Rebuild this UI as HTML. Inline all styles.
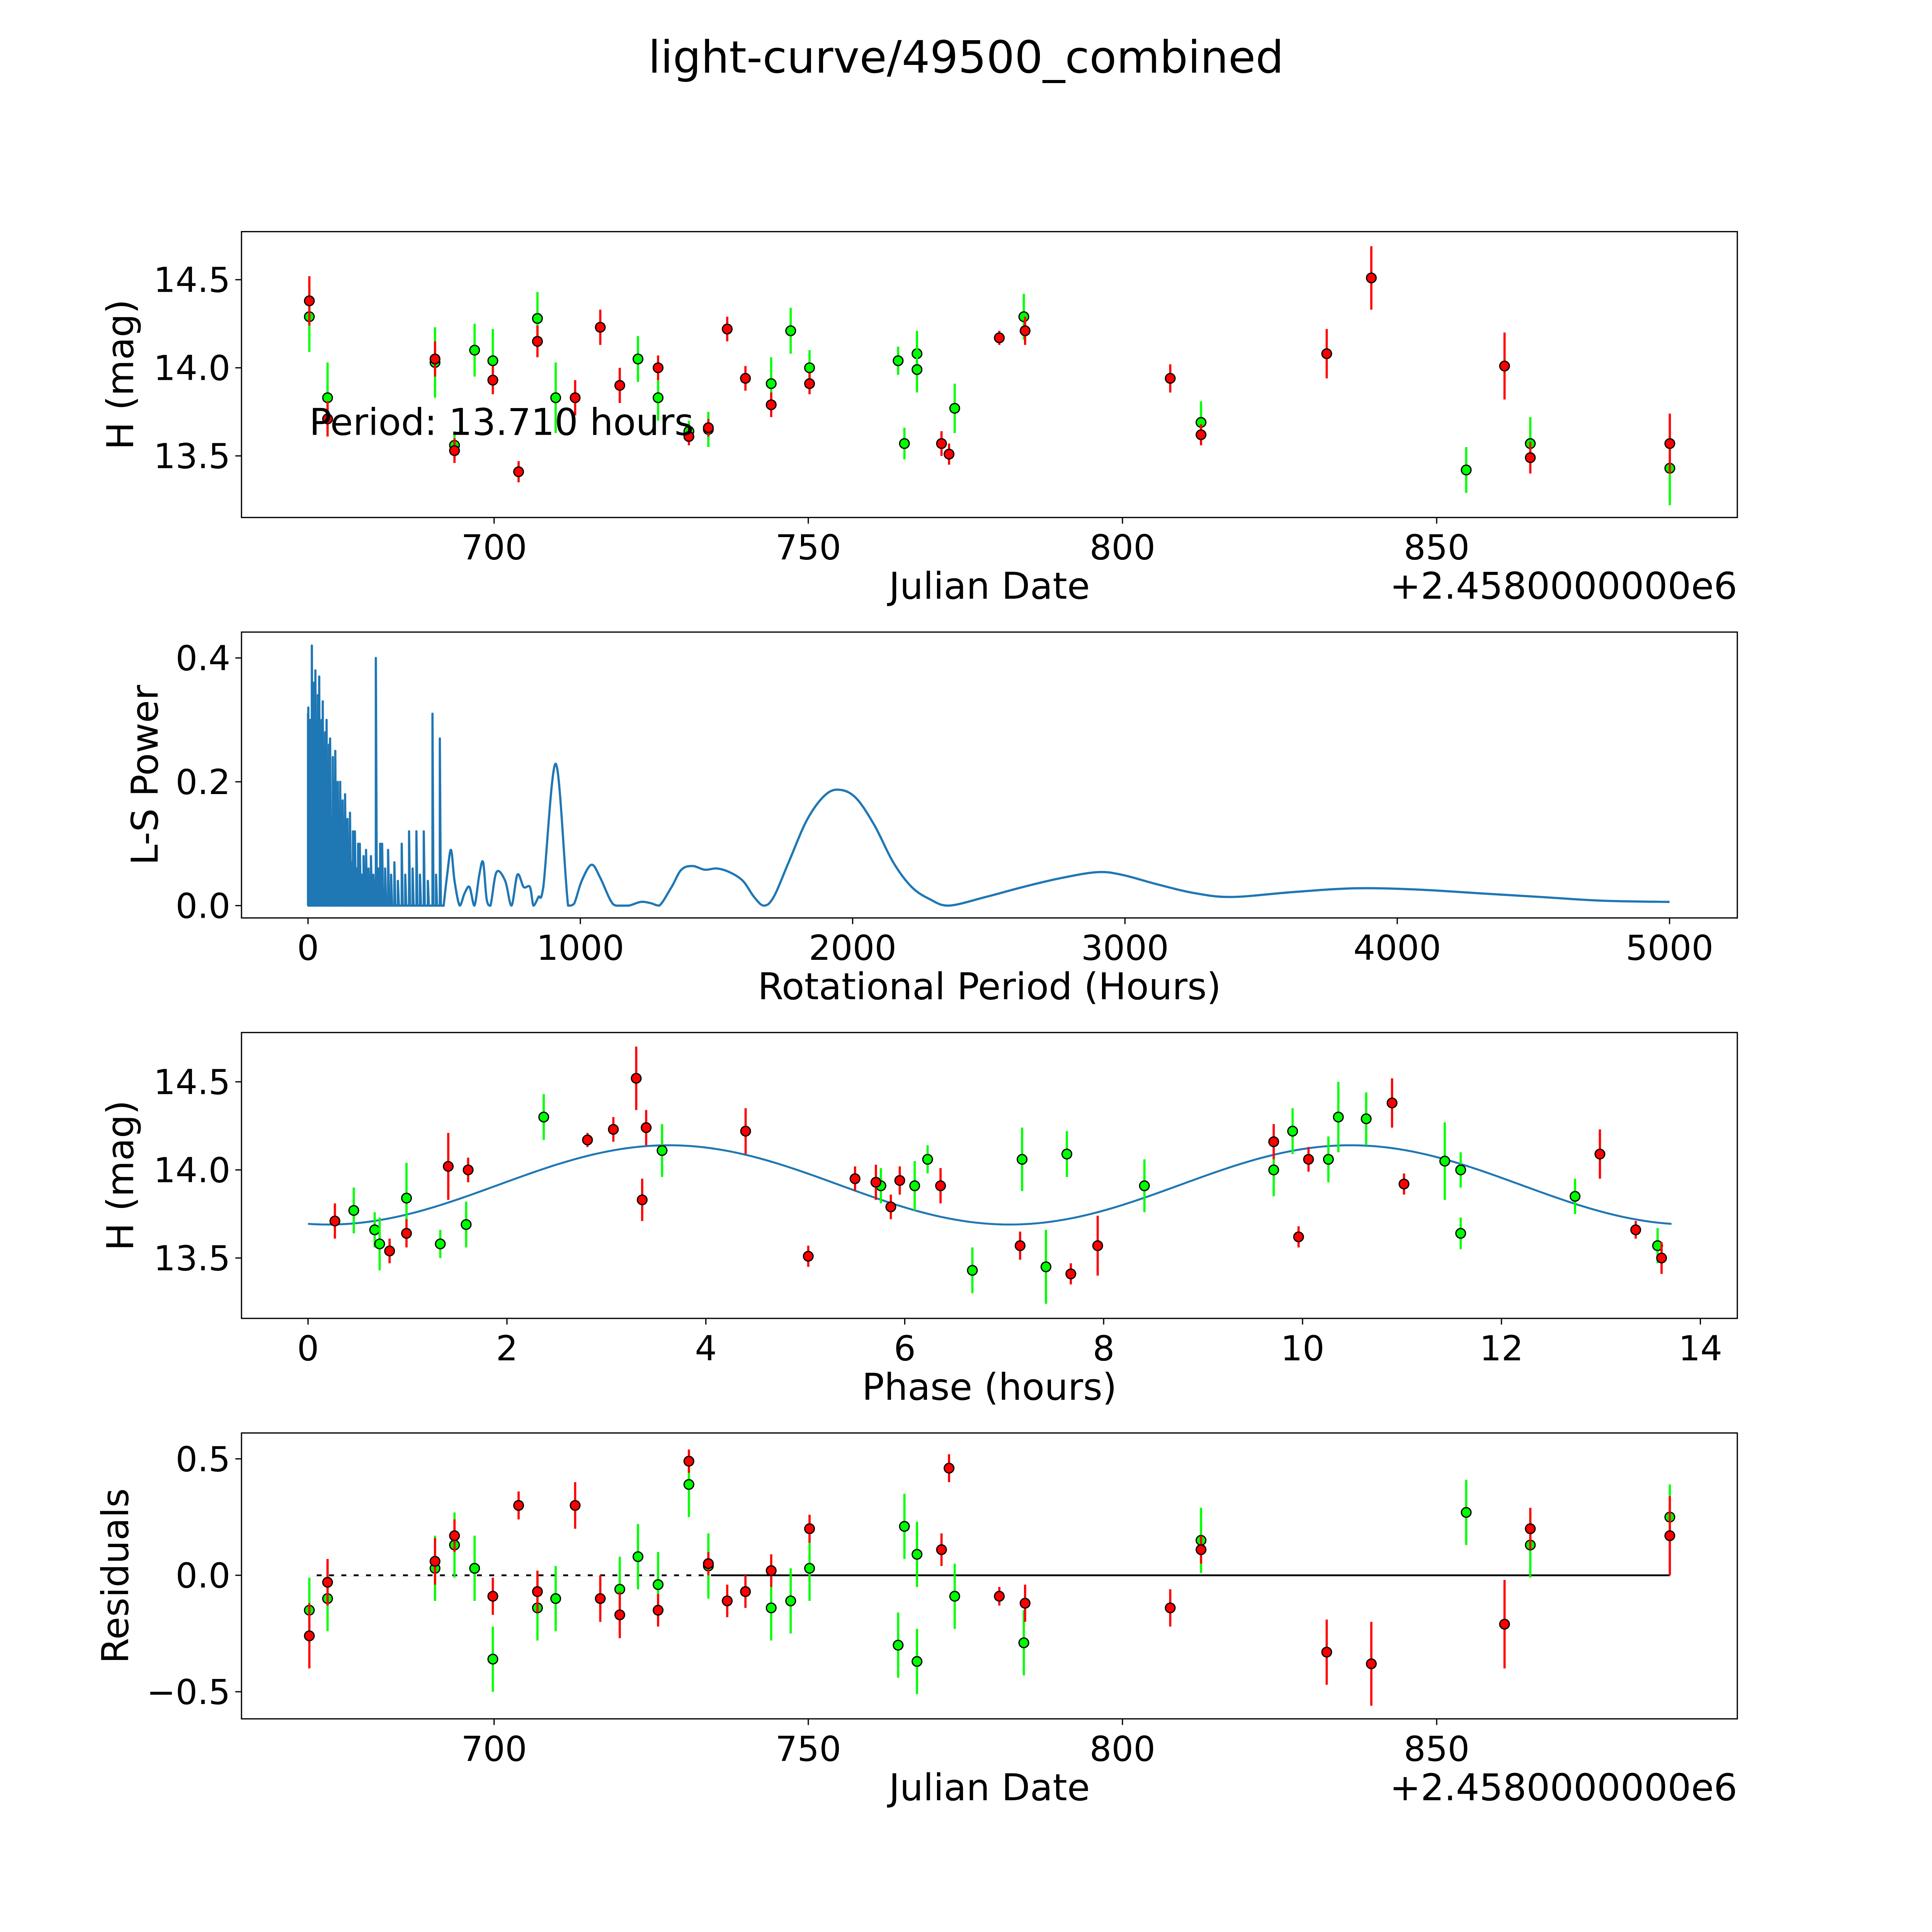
<!DOCTYPE html>
<html><head><meta charset="utf-8"><title>light-curve/49500_combined</title>
<style>
html,body{margin:0;padding:0;background:#fff;overflow:hidden;width:100%;height:100%;}
svg{display:block;width:100vw;height:100vh;font-family:"DejaVu Sans","Liberation Sans",sans-serif;}
</style></head>
<body>
<svg id="fig" viewBox="0 0 1568 1568" preserveAspectRatio="xMinYMin meet" xmlns="http://www.w3.org/2000/svg">
<rect x="0" y="0" width="1568" height="1568" fill="#fff"/>
<text x="784" y="59" font-size="36" text-anchor="middle">light-curve/49500_combined</text>
</svg>
<script>
// ---------- DATA ----------
const redDates=[670.6,673.5,690.6,693.7,699.8,703.9,706.9,712.9,716.9,720,726.1,731,734.1,737.1,740,744.1,750.2,771.2,772.4,780.4,784.5,807.6,812.5,832.5,839.6,860.8,864.9,887.1];
const redMags=[14.38,13.71,14.05,13.53,13.93,13.41,14.15,13.83,14.23,13.90,14.00,13.61,13.66,14.22,13.94,13.79,13.91,13.57,13.51,14.17,14.21,13.94,13.62,14.08,14.51,14.01,13.49,13.57];
const redErrs=[0.14,0.1,0.1,0.07,0.08,0.06,0.09,0.1,0.1,0.1,0.07,0.05,0.05,0.07,0.07,0.07,0.06,0.07,0.06,0.04,0.08,0.08,0.06,0.14,0.18,0.19,0.09,0.17];
const redResid=[-0.26,-0.03,0.06,0.17,-0.09,0.30,-0.07,0.30,-0.10,-0.17,-0.15,0.49,0.05,-0.11,-0.07,0.02,0.20,0.11,0.46,-0.09,-0.12,-0.14,0.11,-0.33,-0.38,-0.21,0.20,0.17];

const greenDates=[670.6,673.5,690.6,693.7,696.9,699.8,706.9,709.8,722.9,726.1,731,734.1,744.1,747.2,750.2,764.3,765.3,767.3,767.3,773.3,784.3,812.5,854.7,864.9,887.1];
const greenMags=[14.29,13.83,14.03,13.56,14.10,14.04,14.28,13.83,14.05,13.83,13.64,13.65,13.91,14.21,14.00,14.04,13.57,14.08,13.99,13.77,14.29,13.69,13.42,13.57,13.43];
const greenErrs=[0.2,0.2,0.2,0.08,0.15,0.18,0.15,0.2,0.13,0.13,0.06,0.1,0.15,0.13,0.1,0.08,0.09,0.13,0.13,0.14,0.13,0.12,0.13,0.15,0.21];
const greenResidDates=[670.6,673.5,690.6,693.7,696.9,699.8,706.9,709.8,720,722.9,726.1,731,734.1,744.1,747.2,750.2,764.3,765.3,767.3,767.3,773.3,784.3,812.5,854.7,864.9,887.1];
const greenResid=[-0.15,-0.10,0.03,0.13,0.03,-0.36,-0.14,-0.10,-0.06,0.08,-0.04,0.39,0.04,-0.14,-0.11,0.03,-0.30,0.21,0.09,-0.37,-0.09,-0.29,0.15,0.27,0.13,0.25];

const redPhase=[0.27,0.82,0.99,1.41,1.61,2.81,3.07,3.30,3.36,3.40,4.40,5.03,5.50,5.71,5.86,5.95,6.36,7.16,7.67,7.94,9.71,9.96,10.06,10.90,11.02,12.99,13.35,13.61];
const redPhaseMags=[13.71,13.54,13.64,14.02,14.00,14.17,14.23,14.52,13.83,14.24,14.22,13.51,13.95,13.93,13.79,13.94,13.91,13.57,13.41,13.57,14.16,13.62,14.06,14.38,13.92,14.09,13.66,13.50];
const redPhaseErrs=[0.1,0.07,0.08,0.19,0.07,0.04,0.07,0.18,0.12,0.1,0.13,0.06,0.07,0.1,0.07,0.08,0.1,0.08,0.06,0.17,0.1,0.06,0.07,0.14,0.06,0.14,0.05,0.09];
const greenPhase=[0.46,0.67,0.72,0.99,1.33,1.59,2.37,3.56,5.76,6.10,6.23,6.68,7.18,7.42,7.63,8.41,9.71,9.90,10.26,10.36,10.64,11.43,11.59,11.59,12.74,13.57];
const greenPhaseMags=[13.77,13.66,13.58,13.84,13.58,13.69,14.30,14.11,13.91,13.91,14.06,13.43,14.06,13.45,14.09,13.91,14.00,14.22,14.06,14.30,14.29,14.05,14.00,13.64,13.85,13.57];
const greenPhaseErrs=[0.13,0.1,0.15,0.2,0.08,0.13,0.13,0.15,0.1,0.14,0.08,0.13,0.18,0.21,0.13,0.15,0.15,0.13,0.13,0.2,0.15,0.22,0.1,0.09,0.1,0.1];

const modelPeriod=[13.71];
const modelParams=[13.915,0.225,0.2];

const lsPeriods=[0,1,5,9,14,18,22,27,31,36,41,45,50,54,59,63,68,72,77,81,86,91,95,100,105,109,113,118,123,127,131,136,141,145,150,154,160,165,172,178,184,190,197,204,213,222,231,240,249,258,265,272,283,294,305,317,330,344,357,371,384,398,411,425,440,457,470,484,495,
498,511,525,538,557,575,593,611,629,643,656,670,692,724,747,769,792,815,828,846,864,910,955,977,1005,1041,1072,1109,1131,1177,1222,1258,1290,1335,1371,1412,1457,1502,1548,1597,1638,1674,1710,1765,1833,1900,1955,2014,2081,2149,2217,2285,2353,2489,2625,2760,2896,2987,3122,3258,3394,3620,3846,4072,4299,4525,4751,5000];
const lsPowers=[0.31,0.32,0.1,0.3,0.42,0.15,0.36,0.38,0.2,0.34,0.37,0.18,0.3,0.33,0.22,0.28,0.3,0.15,0.26,0.27,0.14,0.24,0.2,0.25,0.12,0.2,0.15,0.2,0.1,0.17,0.12,0.18,0.08,0.14,0.1,0.15,0.07,0.12,0.12,0.06,0.1,0.1,0.05,0.08,0.09,0.06,0.08,0.05,0.40,0.06,0.1,0.1,0.06,0.09,0.05,0.07,0.04,0.1,0.05,0.12,0.06,0.12,0.05,0.12,0.04,0.31,0.05,0.27,0.0,
0,0.05,0.09,0.04,0,0.02,0.03,0,0.05,0.07,0.01,0,0.054,0.04,0,0.05,0.03,0.03,0,0.014,0.03,0.229,0,0.003,0.04,0.066,0.046,0.01,0,0,0.006,0.004,0,0.03,0.058,0.064,0.058,0.06,0.054,0.04,0.014,0,0.014,0.07,0.139,0.179,0.187,0.173,0.129,0.07,0.03,0.01,0,0.014,0.03,0.044,0.054,0.05,0.034,0.02,0.014,0.022,0.028,0.026,0.02,0.014,0.008,0.006];
const lsSpikeCount=[69];

// ---------- DRAWING ----------
const NS='http://www.w3.org/2000/svg';
const svg=document.getElementById('fig');
function mk(tag,attrs,parent){const e=document.createElementNS(NS,tag);for(const k in attrs)e.setAttribute(k,attrs[k]);(parent||svg).appendChild(e);return e;}
function lin(d0,d1,p0,p1){return v=>p0+(v-d0)*(p1-p0)/(d1-d0);}

function axes(name,box,xs,ys,xt,yt,xfmt,yfmt,xlabel,ylabel,ylx){
  const g=mk('g',{});
  
  
  const fr=mk('rect',{x:box[0],y:box[1],width:box[2]-box[0],height:box[3]-box[1],fill:'none',stroke:'#000','stroke-width':1},g);
  
  
  xt.forEach(v=>{const x=xs(v);
    mk('line',{x1:x,x2:x,y1:box[3],y2:box[3]+5,stroke:'#000','stroke-width':1},g);
    const t=mk('text',{x:x,y:box[3]+34,'font-size':28,'text-anchor':'middle'},g);t.textContent=xfmt(v);
    
    });
  yt.forEach(v=>{const y=ys(v);
    mk('line',{x1:box[0]-5,x2:box[0],y1:y,y2:y,stroke:'#000','stroke-width':1},g);
    const t=mk('text',{x:box[0]-9,y:y+10,'font-size':28,'text-anchor':'end'},g);t.textContent=yfmt(v);
    
    });
  const xl=mk('text',{x:(box[0]+box[2])/2,y:box[3]+66,'font-size':30,'text-anchor':'middle'},g);xl.textContent=xlabel;
  
  
  const cy=(box[1]+box[3])/2;
  const yl=mk('text',{x:ylx,y:cy,'font-size':30,'text-anchor':'middle',transform:`rotate(-90 ${ylx} ${cy})`},g);yl.textContent=ylabel;
  
  
  return g;
}
function offsetText(name,box){
  const t=mk('text',{x:box[2],y:box[3]+66,'font-size':30,'text-anchor':'end'});
  t.textContent='+2.4580000000e6';
  
  
}
function points(g,xsArr,ysArr,errs,xs,ys,color,name){
  xsArr.forEach((xv,i)=>{
    const x=xs(xv),y=ys(ysArr[i]);
    if(errs){const e=errs[i];
      const l=mk('line',{x1:x,x2:x,y1:ys(ysArr[i]-e),y2:ys(ysArr[i]+e),stroke:color,'stroke-width':1.8},g);
      
      }
    const c=mk('circle',{cx:x,cy:y,r:3.9,fill:color,stroke:'#000','stroke-width':1},g);
    
    
  });
}
const fmt1=v=>v.toFixed(1), fmt0=v=>String(v);

// Panel 1
const b1=[196,188,1410,420];
const x1=lin(700,850,401,1166), y1=lin(13.5,14.5,370,227);
const g1=axes('light-curve-panel',b1,x1,y1,[700,750,800,850],[13.5,14.0,14.5],fmt0,fmt1,'Julian Date','H (mag)',108);
points(g1,greenDates,greenMags,greenErrs,x1,y1,'#00ff00','green-series');
points(g1,redDates,redMags,redErrs,x1,y1,'#ff0000','red-series');
offsetText('x-offset-label-top',b1);
const pt=mk('text',{x:251,y:353,'font-size':30});pt.textContent='Period: 13.710 hours';



// Panel 2
const b2=[196,513,1410,745];
const x2=lin(0,5000,250,1355), y2=lin(0,0.4,735,534);
const g2=axes('periodogram-panel',b2,x2,y2,[0,1000,2000,3000,4000,5000],[0,0.2,0.4],fmt0,fmt1,'Rotational Period (Hours)','L-S Power',128);
let d='M'+x2(lsPeriods[0])+','+y2(0);
for(let i=0;i<lsSpikeCount[0];i++){
  const x=x2(lsPeriods[i]);
  d+=' L'+x+','+y2(0)+' L'+x+','+y2(lsPowers[i])+' L'+(x+0.8)+','+y2(0);
}
const sm=[];
for(let i=lsSpikeCount[0];i<lsPeriods.length;i++)sm.push([x2(lsPeriods[i]),y2(lsPowers[i])]);
d+=' L'+sm[0][0]+','+sm[0][1];
for(let i=0;i<sm.length-1;i++){
  const p0=sm[Math.max(0,i-1)],p1=sm[i],p2=sm[i+1],p3=sm[Math.min(sm.length-1,i+2)];
  const c1=[p1[0]+(p2[0]-p0[0])/6,p1[1]+(p2[1]-p0[1])/6];
  const c2=[p2[0]-(p3[0]-p1[0])/6,p2[1]-(p3[1]-p1[1])/6];
  d+=` C${c1[0]},${Math.min(c1[1],y2(0))} ${c2[0]},${Math.min(c2[1],y2(0))} ${p2[0]},${p2[1]}`;
}
const lsl=mk('path',{d:d,fill:'none',stroke:'#1f77b4','stroke-width':1.8,'stroke-linejoin':'round'},g2);



// Panel 3
const b3=[196,838,1410,1070];
const x3=lin(0,14,250,1380), y3=lin(13.5,14.5,1021,878);
const g3=axes('phase-panel',b3,x3,y3,[0,2,4,6,8,10,12,14],[13.5,14.0,14.5],fmt0,fmt1,'Phase (hours)','H (mag)',108);
let mp=[];
for(let k=0;k<=200;k++){const p=modelPeriod[0]*k/200;
  const m=modelParams[0]-modelParams[1]*Math.cos(2*Math.PI*(p-modelParams[2])/(modelPeriod[0]/2));
  mp.push(x3(p)+','+y3(m));}
const ml=mk('polyline',{points:mp.join(' '),fill:'none',stroke:'#1f77b4','stroke-width':1.6},g3);


points(g3,greenPhase,greenPhaseMags,greenPhaseErrs,x3,y3,'#00ff00','green-phase');
points(g3,redPhase,redPhaseMags,redPhaseErrs,x3,y3,'#ff0000','red-phase');

// Panel 4
const b4=[196,1163,1410,1395];
const x4=lin(700,850,401,1166), y4=lin(-0.5,0.5,1373,1184);
const g4=axes('residuals-panel',b4,x4,y4,[700,750,800,850],[-0.5,0,0.5],fmt0,v=>(v<0?'\u22120.5':v.toFixed(1)),'Julian Date','Residuals',104);
const zl=mk('line',{x1:x4(670.6),x2:x4(887.1),y1:y4(0),y2:y4(0),stroke:'#000','stroke-width':1.5},g4);


const zd=mk('line',{x1:x4(670.6),x2:x4(735),y1:y4(0),y2:y4(0),stroke:'#fff','stroke-width':1.5,'stroke-dasharray':'6 4'},g4);


points(g4,greenResidDates,greenResid,greenResid.map(()=>0.14),x4,y4,'#00ff00','green-residual');
points(g4,redDates,redResid,redErrs,x4,y4,'#ff0000','red-residual');
offsetText('x-offset-label-bottom',b4);
</script>
</body></html>
